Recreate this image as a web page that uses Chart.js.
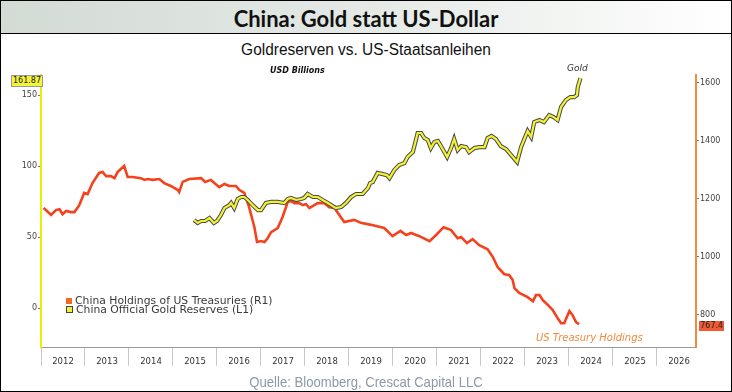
<!DOCTYPE html>
<html>
<head>
<meta charset="utf-8">
<script src="https://cdn.jsdelivr.net/npm/chart.js@4"></script>
<style>
  html, body { margin: 0; padding: 0; background: #fff; }
  #frame { position: relative; width: 730px; height: 390px; border: 1px solid #000; overflow: hidden; }
  #titlebar { position: absolute; left: 0; top: 0; width: 730px; height: 32px;
    background: linear-gradient(to right, #d3dbd5 0%, #e4e9e5 50%, #ffffff 100%);
    border-bottom: 1px solid #000; }
  #title { position: absolute; left: 0; top: 4px; width: 730px; text-align: center;
    font-family: Lato, sans-serif; font-weight: bold; font-size: 22px; color: #111; }
  #subtitle { position: absolute; left: 0; top: 40px; width: 730px; text-align: center;
    font-family: "Liberation Sans Narrow", "Liberation Sans", sans-serif; font-size: 16px; color: #111;
    transform: scaleX(0.965); }
  #source { position: absolute; left: 0; top: 372px; width: 730px; text-align: center;
    font-family: "Liberation Sans Narrow", "Liberation Sans", sans-serif; font-size: 15px; color: #8c9aa8;
    transform: scaleX(0.875); }
  .note { position: absolute; font-family: "DejaVu Sans", sans-serif; font-style: italic; white-space: nowrap; }
  .legend { position: absolute; left: 65px; font-family: "DejaVu Sans", sans-serif; font-size: 10.8px; line-height: 10px; color: #3a3a3a; white-space: nowrap; }
  .legend span { display: inline-block; width: 6px; height: 6px; margin-right: 3px; vertical-align: 0px; }
  .valbox { position: absolute; font-family: "DejaVu Sans", sans-serif; font-size: 8px; line-height: 10px; padding: 0 1px; color: #222; }
  canvas { position: absolute; left: 0; top: 0; }
</style>
</head>
<body>
<div id="frame">
  <div id="titlebar"></div>
  <div id="title">China: Gold statt US-Dollar</div>
  <div id="subtitle">Goldreserven vs. US-Staatsanleihen</div>
  <canvas id="chart" width="730" height="390"></canvas>
  <div class="note" style="left:269px;top:65px;font-size:8px;font-weight:bold;color:#111;">USD Billions</div>
  <div class="note" style="left:566px;top:62px;font-size:9px;color:#333;">Gold</div>
  <div class="note" style="left:535px;top:331px;font-size:10px;color:#f08a3c;">US Treasury Holdings</div>
  <div class="legend" style="top:295px;"><span style="background:#f06a28;"></span>China Holdings of US Treasuries (R1)</div>
  <div class="legend" style="top:304px;"><span style="background:#f2f232;border:1px solid #444;width:5px;height:5px;"></span>China Official Gold Reserves (L1)</div>
  <div class="valbox" style="left:10px;top:74px;background:#f4f43a;border:1px solid #999;">161.87</div>
  <div class="valbox" style="left:698px;top:320px;background:#f25a36;">767.4</div>
  <div id="source">Quelle: Bloomberg, Crescat Capital LLC</div>
</div>
<script>
// China holdings of US Treasuries, USD bn (right axis)
const treasuryDates = [2012.06, 2012.23, 2012.34, 2012.42, 2012.49, 2012.57, 2012.68, 2012.76, 2012.87, 2012.98,
  2013.06, 2013.17, 2013.32, 2013.40, 2013.48, 2013.59, 2013.67, 2013.74, 2013.89, 2013.97,
  2014.08, 2014.27, 2014.35, 2014.42, 2014.54, 2014.69, 2014.80, 2014.95, 2015.11, 2015.14,
  2015.22, 2015.37, 2015.64, 2015.73, 2015.86, 2015.94, 2016.05, 2016.17, 2016.28, 2016.43,
  2016.51, 2016.62, 2016.73, 2016.85, 2016.91, 2017.00, 2017.08, 2017.15, 2017.23, 2017.38,
  2017.49, 2017.61, 2017.68, 2017.76, 2017.87, 2017.95, 2018.02, 2018.10, 2018.21, 2018.29,
  2018.44, 2018.55, 2018.67, 2018.89, 2019.12, 2019.27, 2019.50, 2019.80, 2019.99, 2020.17,
  2020.30, 2020.41, 2020.60, 2020.83, 2020.98, 2021.15, 2021.32, 2021.47, 2021.55, 2021.68,
  2021.81, 2021.96, 2022.15, 2022.27, 2022.38, 2022.53, 2022.64, 2022.72, 2022.76, 2022.87,
  2023.06, 2023.18, 2023.25, 2023.33, 2023.40, 2023.52, 2023.63, 2023.74, 2023.82, 2023.89,
  2024.01, 2024.08, 2024.16, 2024.23];
const treasuryValues = [1168, 1144, 1161, 1164, 1147, 1158, 1154, 1154, 1178, 1220,
  1216, 1254, 1289, 1292, 1278, 1278, 1271, 1292, 1313, 1275,
  1275, 1271, 1265, 1268, 1265, 1268, 1254, 1244, 1230, 1223,
  1258, 1268, 1271, 1258, 1265, 1254, 1240, 1251, 1244, 1244,
  1230, 1220, 1171, 1102, 1051, 1054, 1051, 1064, 1085, 1099,
  1137, 1189, 1192, 1185, 1185, 1178, 1182, 1168, 1178, 1185,
  1185, 1171, 1168, 1120, 1127, 1117, 1110, 1099, 1071, 1089,
  1075, 1082, 1071, 1054, 1075, 1102, 1092, 1064, 1068, 1047,
  1061, 1040, 1026, 999, 964, 940, 937, 920, 892, 875,
  861, 847, 868, 868, 851, 834, 816, 789, 771, 771,
  813, 799, 775, 767.4];

// China official gold reserves, USD bn (left axis)
const goldDates = [2015.48, 2015.56, 2015.64, 2015.73, 2015.83, 2015.93, 2016.00, 2016.09, 2016.17, 2016.28,
  2016.32, 2016.39, 2016.47, 2016.55, 2016.62, 2016.70, 2016.81, 2016.93, 2017.00, 2017.11,
  2017.23, 2017.38, 2017.53, 2017.61, 2017.68, 2017.80, 2017.91, 2017.98, 2018.06, 2018.18,
  2018.29, 2018.40, 2018.52, 2018.70, 2018.82, 2018.93, 2019.05, 2019.16, 2019.31, 2019.43,
  2019.48, 2019.54, 2019.65, 2019.77, 2019.86, 2019.92, 2020.03, 2020.14, 2020.26, 2020.33,
  2020.45, 2020.48, 2020.56, 2020.64, 2020.71, 2020.79, 2020.86, 2020.94, 2021.02, 2021.09,
  2021.23, 2021.32, 2021.39, 2021.47, 2021.55, 2021.66, 2021.73, 2021.85, 2021.96, 2022.08,
  2022.15, 2022.24, 2022.34, 2022.45, 2022.57, 2022.82, 2022.91, 2023.06, 2023.14, 2023.21,
  2023.33, 2023.43, 2023.55, 2023.65, 2023.74, 2023.82, 2023.93, 2024.03, 2024.12, 2024.18,
  2024.20, 2024.26];
const goldValues = [62.1, 60.0, 61.4, 61.4, 63.5, 60.0, 61.4, 65.6, 70.5, 72.6,
  74.1, 70.5, 76.9, 78.3, 78.3, 76.2, 72.6, 69.1, 69.1, 74.1,
  74.8, 74.8, 74.1, 76.9, 77.6, 76.2, 76.9, 77.6, 80.4, 78.3,
  78.3, 76.2, 74.1, 70.5, 71.2, 74.1, 78.3, 80.4, 80.4, 84.6,
  88.1, 88.8, 95.2, 94.4, 93.7, 91.6, 97.3, 100.8, 102.2, 106.4,
  109.9, 113.4, 123.3, 123.3, 119.8, 118.4, 112.7, 117.0, 117.7, 114.1,
  106.4, 112.7, 119.1, 111.3, 114.1, 113.4, 109.9, 112.7, 113.4, 113.4,
  119.8, 121.2, 119.1, 114.1, 112.0, 102.9, 113.4, 124.7, 120.5, 131.0,
  132.4, 131.0, 135.9, 134.5, 132.4, 141.6, 146.5, 148.6, 148.6, 150.0,
  155.6, 161.87];

const years = [2012, 2013, 2014, 2015, 2016, 2017, 2018, 2019, 2020, 2021, 2022, 2023, 2024, 2025, 2026];
const leftTicks = [0, 50, 100, 150];
const rightTicks = [800, 1000, 1200, 1400, 1600];

const treasuryPoints = treasuryDates.map((d, i) => ({ x: d, y: treasuryValues[i] }));
const goldPoints = goldDates.map((d, i) => ({ x: d, y: goldValues[i] }));

const tickFont = { family: 'DejaVu Sans', size: 8 };

new Chart(document.getElementById('chart'), {
  type: 'line',
  data: {
    datasets: [
      { label: 'China Official Gold Reserves (L1)', data: goldPoints, yAxisID: 'yL',
        borderColor: '#f2f232', borderWidth: 2.2, pointRadius: 0, tension: 0, order: 1 },
      { label: 'gold outline', data: goldPoints, yAxisID: 'yL',
        borderColor: '#4a4a4a', borderWidth: 4.2, pointRadius: 0, tension: 0, order: 2 },
      { label: 'China Holdings of US Treasuries (R1)', data: treasuryPoints, yAxisID: 'yR',
        borderColor: '#f5421e', borderWidth: 2.6, pointRadius: 0, tension: 0, order: 3 }
    ]
  },
  options: {
    responsive: false,
    animation: false,
    layout: { padding: { left: 0, right: 0, top: 74, bottom: 18 } },
    plugins: { legend: { display: false }, tooltip: { enabled: false } },
    scales: {
      x: {
        type: 'linear', min: 2012, max: 2012 + 655 / 44,
        afterBuildTicks: s => { s.ticks = years.map(v => ({ value: v })); },
        afterFit: s => { s.height = 26; },
        border: { color: '#999', width: 1 },
        grid: { drawOnChartArea: false, tickLength: 19, color: '#c8c8c8' },
        ticks: { autoSkip: false, maxRotation: 0, labelOffset: 22, padding: -9,
          color: '#333', font: { family: 'DejaVu Sans', size: 8.5 }, callback: v => String(v) }
      },
      yL: {
        position: 'left', min: -27.2, max: 164.1,
        afterBuildTicks: s => { s.ticks = leftTicks.map(v => ({ value: v })); },
        afterFit: s => { s.width = 40; },
        border: { color: '#e6f000', width: 2 },
        grid: { drawOnChartArea: false, tickLength: 3, color: '#777' },
        ticks: { padding: 1, color: '#444', font: tickFont, callback: v => String(v) }
      },
      yR: {
        position: 'right', min: 689, max: 1626.5,
        afterBuildTicks: s => { s.ticks = rightTicks.map(v => ({ value: v })); },
        afterFit: s => { s.width = 35; },
        border: { color: '#f08c3c', width: 2 },
        grid: { drawOnChartArea: false, tickLength: 3, color: '#777' },
        ticks: { padding: 1, color: '#444', font: tickFont, callback: v => String(v) }
      }
    }
  }
});
</script>
</body>
</html>
